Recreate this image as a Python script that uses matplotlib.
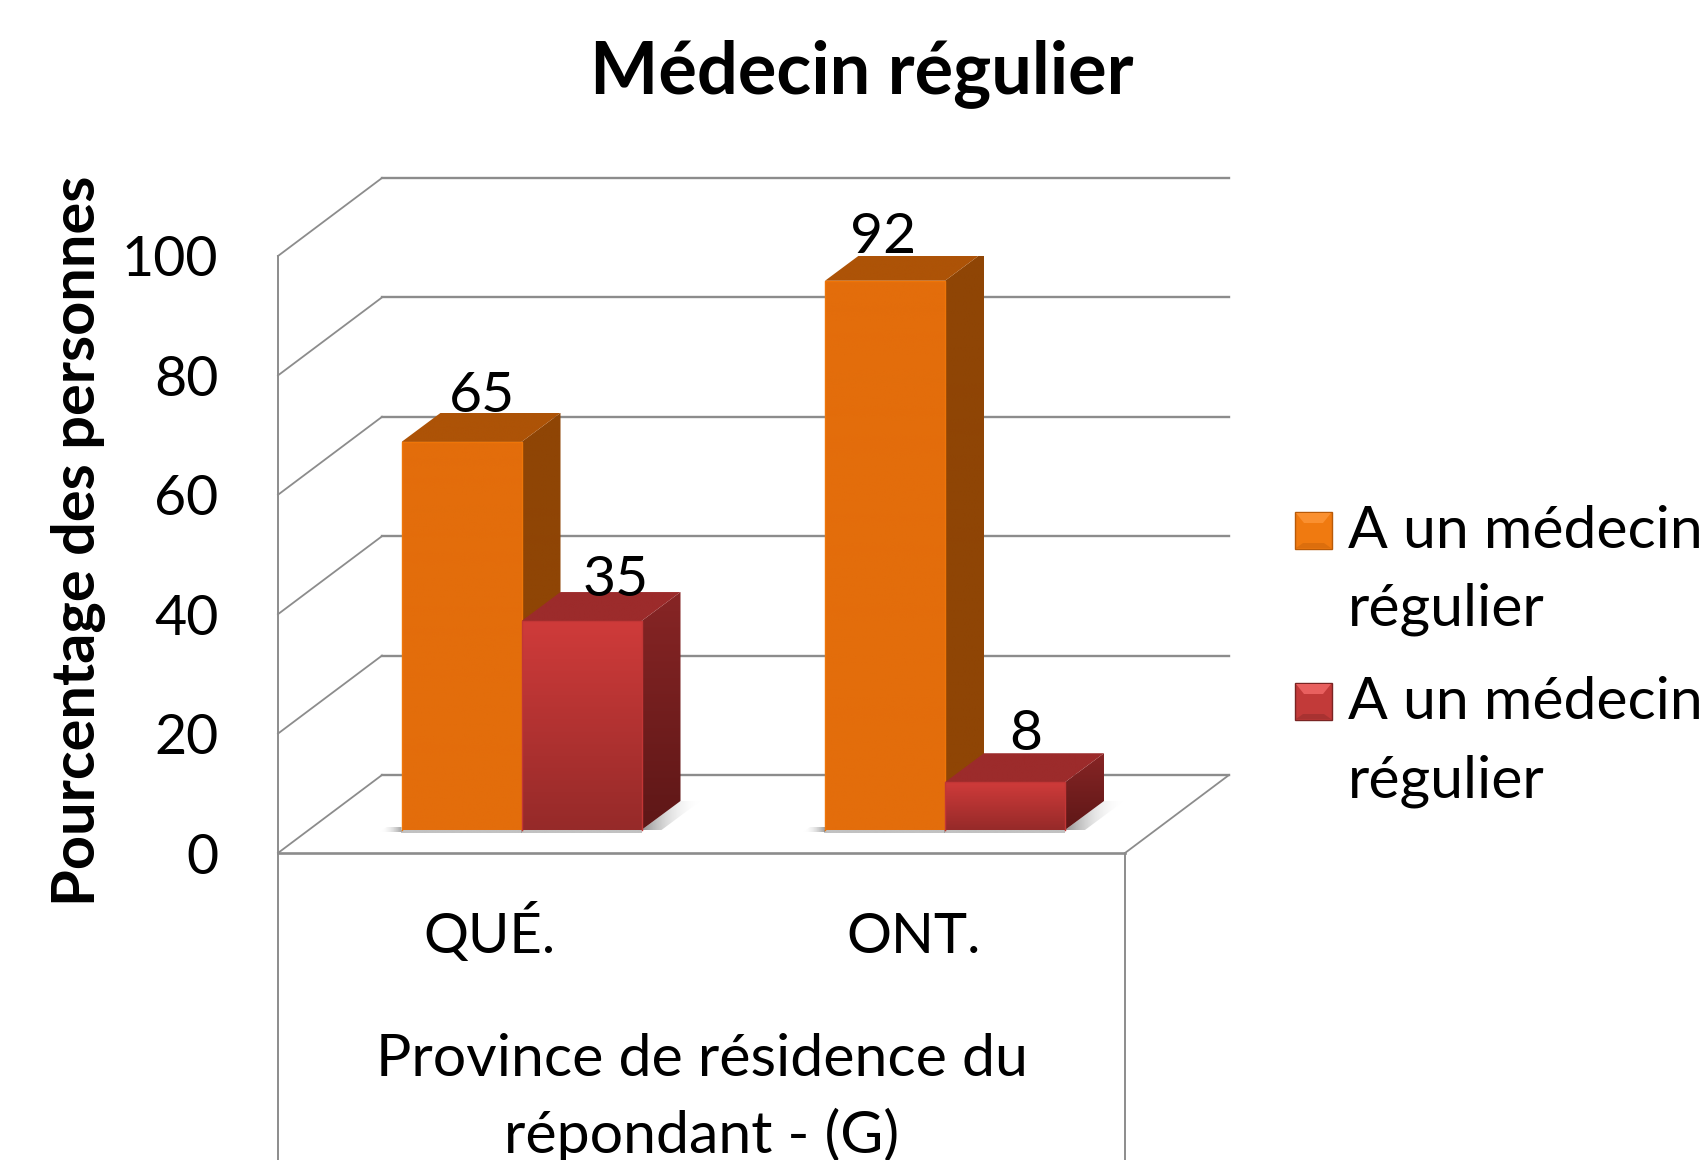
import numpy as np
import matplotlib
matplotlib.use('Agg')
import matplotlib.pyplot as plt
from matplotlib.colors import to_rgb
from matplotlib.patches import Polygon

plt.rcParams['font.family'] = ['Lato', 'DejaVu Sans']

categories = ['QUÉ.', 'ONT.']
series_names = ['A un médecin\nrégulier', 'A un médecin\nrégulier']
with_doctor = [65, 92]
without_doctor = [35, 8]
y_ticks = [0, 20, 40, 60, 80, 100]

W, H = 1703, 1160
# front plane of the 3d box, in pixels
left, right, bottom, top = 278, 1125, 853, 256
xscale = (right - left) / 2.0    # px per category
yscale = (bottom - top) / 100.0  # px per percent

fig = plt.figure(figsize=(W / 100, H / 100), dpi=100)
ax = fig.add_axes([left / W, 1 - bottom / H, (right - left) / W, (bottom - top) / H])


def dx(px):
    return px / xscale


def dy(px):
    return px / yscale


def grad_poly(a, verts, c1, c2, horizontal=False, alpha=None, z=3):
    # polygon filled with a linear gradient, c1 top/left to c2 bottom/right
    verts = np.array(verts, dtype=float)
    t = np.linspace(0, 1, 64)
    col = np.outer(1 - t, to_rgb(c1)) + np.outer(t, to_rgb(c2))
    if alpha is not None:
        col = np.column_stack([col, alpha[0] + (alpha[1] - alpha[0]) * t])
    img = col[np.newaxis, :, :] if horizontal else col[:, np.newaxis, :]
    ext = [verts[:, 0].min(), verts[:, 0].max(), verts[:, 1].min(), verts[:, 1].max()]
    im = a.imshow(img, extent=ext, origin='upper', aspect='auto', zorder=z,
                  interpolation='bilinear')
    clip = Polygon(verts, closed=True, transform=a.transData, fc='none', ec='none')
    a.add_patch(clip)
    im.set_clip_path(clip)
    return im


bar_w = dx(120)
bar_base = dy(23)
bar_ddx, bar_ddy = dx(39), dy(29)


def draw_bar(a, x0, val, faces, z):
    w = bar_w
    base = bar_base
    ddx, ddy = bar_ddx, bar_ddy
    h = base + val
    # shadow on the floor, behind the side face
    grad_poly(a, [(x0 + w, base), (x0 + w + ddx, base + ddy), (x0 + w + ddx + dx(20), base + ddy),
                  (x0 + w + dx(20), base)],
              '#666666', '#ffffff', horizontal=True, alpha=(0.7, 0.0), z=z - 0.5)
    grad_poly(a, [(x0 + w, base), (x0 + w + ddx, base + ddy), (x0 + w + ddx, h + ddy), (x0 + w, h)],
              faces['side'][0], faces['side'][1], z=z)
    grad_poly(a, [(x0, h), (x0 + ddx, h + ddy), (x0 + w + ddx, h + ddy), (x0 + w, h)],
              faces['top'], faces['top'], z=z)
    grad_poly(a, [(x0, base), (x0, h), (x0 + w, h), (x0 + w, base)],
              faces['front'][0], faces['front'][1], z=z + 0.1)
    # lighter bevel
    a.plot([x0, x0, x0 + w, x0 + w], [base, h, h, base], color=faces['edge'], lw=1.0, zorder=z + 0.2,
           clip_on=False)
    # thin contact shadow
    grad_poly(a, [(x0 - dx(1), base - dy(3)), (x0 - dx(1), base), (x0 + w, base), (x0 + w, base - dy(3))],
              '#777777', '#777777', alpha=(0.45, 0.45), z=z - 0.5)


orange = {'front': ('#E36D0B', '#E36D0B'), 'side': ('#8F4505', '#8F4505'), 'top': '#AD5307', 'edge': '#EE7508'}
red = {'front': ('#CF3B3A', '#962A29'), 'side': ('#872525', '#5E1717'), 'top': '#9C2B2B', 'edge': '#C23636'}

# box lines
box = '#8C8C8C'
ddx_box, ddy_box = dx(104), dy(78)
x_l, x_r = -0.5, 1.5
for v in y_ticks:
    ax.plot([x_l, x_l + ddx_box], [v, v + ddy_box], color=box, lw=1.3, zorder=1, clip_on=False)
    ax.plot([x_l + ddx_box, x_r + ddx_box], [v + ddy_box, v + ddy_box], color=box, lw=1.7, zorder=1, clip_on=False)
ax.plot([x_l, x_l], [-52, 100], color=box, lw=1.4, zorder=1, clip_on=False)
ax.plot([x_r, x_r], [-52, 0], color=box, lw=1.4, zorder=1, clip_on=False)
ax.plot([x_l, x_r], [0, 0], color=box, lw=1.9, zorder=2, clip_on=False)
ax.plot([x_r, x_r + ddx_box], [0, ddy_box], color=box, lw=1.3, zorder=1, clip_on=False)

# bars, one group per category
group_off = dx(123.5) - 0.5
for i in range(len(categories)):
    x0 = i + group_off
    grad_poly(ax, [(x0 - dx(22), bar_base - dy(2)), (x0 - dx(15), bar_base + dy(3)), (x0, bar_base + dy(3)),
                   (x0, bar_base - dy(2))],
              '#ffffff', '#777777', horizontal=True, alpha=(0.0, 0.7), z=3)
    draw_bar(ax, x0, with_doctor[i], orange, 4)
    draw_bar(ax, x0 + bar_w, without_doctor[i], red, 6)

# data labels were moved by hand in the original, so each has its own nudge
label_dx = [[21, 34], [-2, 21]]
label_dy = [[1, -4], [-1, 3]]
for i in range(len(categories)):
    x0 = i + group_off
    for j, val in enumerate([with_doctor[i], without_doctor[i]]):
        xc = x0 + bar_w * (j + 0.5) + dx(label_dx[i][j])
        yb = bar_base + val + bar_ddy + dy(label_dy[i][j])
        ax.text(xc, yb, str(val), ha='center', va='baseline', fontsize=41, color='black', zorder=9, clip_on=False)

ax.set_xlim(x_l, x_r)
ax.set_ylim(0, 100)
ax.patch.set_alpha(0)
for s in ax.spines.values():
    s.set_visible(False)
ax.set_xticks(range(len(categories)))
ax.set_xticklabels(categories)
ax.set_yticks(y_ticks)
ax.tick_params(axis='x', length=0, pad=72, labelsize=40.5)
ax.tick_params(axis='y', length=0, pad=43, labelsize=40)
for lab in ax.get_xticklabels():
    lab.set_va('baseline')
ax.set_ylabel('Pourcentage des personnes', fontsize=42.8, fontweight='bold')
ax.yaxis.set_label_coords((106 - left) / (right - left), (bottom - 541) / (bottom - top))
ax.text(0.5, dy(-300), 'Province de résidence du\nrépondant - (G)', ha='center', va='baseline',
        fontsize=42.5, linespacing=1.48, clip_on=False)

fig.text(862 / W, 1 - 74 / H, 'Médecin régulier', ha='center', va='center', fontsize=52, fontweight='bold')

# legend, drawn by hand because of the bevelled swatches
lg = fig.add_axes([0, 0, 1, 1])
lg.set_xlim(0, W)
lg.set_ylim(H, 0)
lg.axis('off')
lg.patch.set_alpha(0)
legend_y = [512, 683]
swatch = [('#F07A10', '#FA9030', '#B85A08'), ('#C23A39', '#E8605F', '#7A2423')]
for name, y0, (mid, light, dark) in zip(series_names, legend_y, swatch):
    s = 37
    x0 = 1295
    lg.add_patch(Polygon([(x0, y0), (x0 + s, y0), (x0 + s, y0 + s), (x0, y0 + s)], fc=mid, ec=dark, lw=1.0))
    lg.add_patch(Polygon([(x0 + 1, y0 + 1), (x0 + s - 1, y0 + 1), (x0 + s - 9, y0 + 11), (x0 + 9, y0 + 11)], fc=light, ec='none'))
    lg.add_patch(Polygon([(x0 + 1, y0 + s - 1), (x0 + s - 1, y0 + s - 1), (x0 + s - 8, y0 + s - 6), (x0 + 8, y0 + s - 6)], fc=dark, ec='none', alpha=0.35))
    lines = name.split('\n')
    lg.text(1348, y0 + 36, lines[0], fontsize=42.4, va='baseline', ha='left')
    lg.text(1348, y0 + 114, lines[1], fontsize=42.4, va='baseline', ha='left')

fig.savefig('out.png', dpi=100, facecolor='white')
